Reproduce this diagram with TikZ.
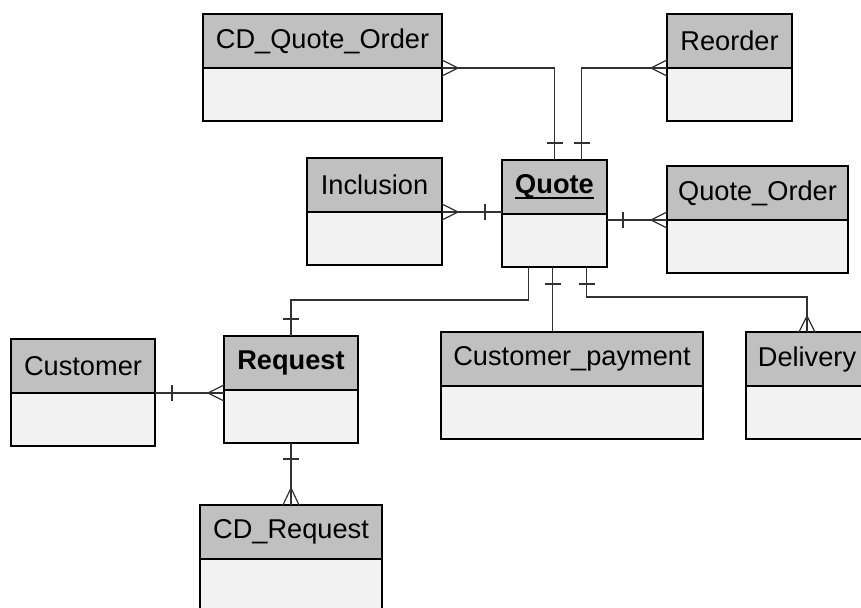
\documentclass[tikz,border=0pt]{standalone}
\usepackage{fontspec}
\setmainfont{Liberation Sans}
\usetikzlibrary{calc}

\newlength{\du}
\setlength{\du}{0.5pt}

\definecolor{headgray}{RGB}{192,192,192}
\definecolor{bodygray}{RGB}{242,242,242}
\definecolor{linkgray}{RGB}{50,50,50}

\tikzset{
  head/.style={draw=black, line width=2\du, fill=headgray, anchor=north west,
    minimum height=54\du, inner sep=0pt, outer sep=0pt, font=\fontsize{13.6}{16}\selectfont},
  body/.style={draw=black, line width=2\du, fill=bodygray, anchor=north,
    minimum height=53\du, inner sep=0pt, outer sep=0pt},
  link/.style={draw=linkgray, line width=1.2\du},
}

% entity: name, x, y, width, label
\newcommand{\entity}[5]{%
  \node[head, minimum width=#4\du] (#1) at (#2\du,#3\du) {#5};
  \node[body, minimum width=#4\du] (#1b) at (#1.south) {};}
% thick underline for the key entity
\newsavebox{\ulbox}
\newcommand{\thickul}[1]{\sbox{\ulbox}{#1}\usebox{\ulbox}\llap{\rule[-2.6pt]{\wd\ulbox}{1pt}}}
% crow's foot and bar marks
\newcommand{\crowh}[2]{\draw[link] ($#1+(#2\du,0)$) -- ($#1+(0,-8\du)$) ($#1+(#2\du,0)$) -- ($#1+(0,8\du)$);}
\newcommand{\crowv}[2]{\draw[link] ($#1+(0,#2\du)$) -- ($#1+(-8\du,0)$) ($#1+(0,#2\du)$) -- ($#1+(8\du,0)$);}
\newcommand{\barh}[2]{\draw[link] ($#1+(#2\du,-8\du)$) -- ++(0,16\du);}
\newcommand{\barv}[2]{\draw[link] ($#1+(-8\du,#2\du)$) -- ++(16\du,0);}

\begin{document}
\begin{tikzpicture}
\pgftransformxscale{1.000000}
\pgftransformyscale{-1.000000}
\useasboundingbox (0\du,0\du) rectangle (861\du,607\du);

\entity{cdqo}{203}{14}{239}{CD\_Quote\_Order}
\entity{reorder}{667}{14}{125}{Reorder}
\entity{incl}{307}{158}{135}{Inclusion}
\entity{quote}{502}{160}{105}{\textbf{\thickul{Quote}}}
\entity{qo}{667}{166}{181}{Quote\_Order}
\entity{cust}{11}{339}{144}{Customer}
\entity{req}{224}{336}{134}{\textbf{Request}}
\entity{cp}{441}{332}{262}{Customer\_payment}
\entity{del}{746}{332}{122}{Delivery}
\entity{cdreq}{200}{505}{182}{CD\_Request}

\coordinate (q-top2) at ([xshift=27\du]quote.north);
\coordinate (q-in) at (incl.south east -| quote.west);
\coordinate (q-qo) at (qo.south west -| quote.east);
\coordinate (q-req) at ([xshift=-26\du]quoteb.south);
\coordinate (q-cp) at ([xshift=-2\du]quoteb.south);
\coordinate (q-del) at ([xshift=32\du]quoteb.south);
\coordinate (cp-top) at (q-cp |- cp.north);
\coordinate (req-cu) at (cust.south east -| req.west);

% Quote links
\draw[link] (cdqo.south east) -| (quote.north);
\crowh{(cdqo.south east)}{16}
\barv{(quote.north)}{-17}
\draw[link] (reorder.south west) -| (q-top2);
\crowh{(reorder.south west)}{-16}
\barv{(q-top2)}{-17}
\draw[link] (incl.south east) -- (q-in);
\crowh{(incl.south east)}{16}
\barh{(q-in)}{-17}
\draw[link] (q-qo) -- (qo.south west);
\crowh{(qo.south west)}{-16}
\barh{(q-qo)}{16}
\draw[link] (q-req) -- ++(0,33\du) -| (req.north);
\barv{(req.north)}{-17}
\draw[link] (q-cp) -- (cp-top);
\barv{(q-cp)}{17}
\draw[link] (q-del) -- ++(0,30\du) -| (del.north);
\barv{(q-del)}{17}
\crowv{(del.north)}{-16}

% Request links
\draw[link] (cust.south east) -- (req-cu);
\barh{(cust.south east)}{17}
\crowh{(req-cu)}{-16}
\draw[link] (reqb.south) -- (cdreq.north);
\barv{(reqb.south)}{16}
\crowv{(cdreq.north)}{-17}
\end{tikzpicture}
\end{document}
